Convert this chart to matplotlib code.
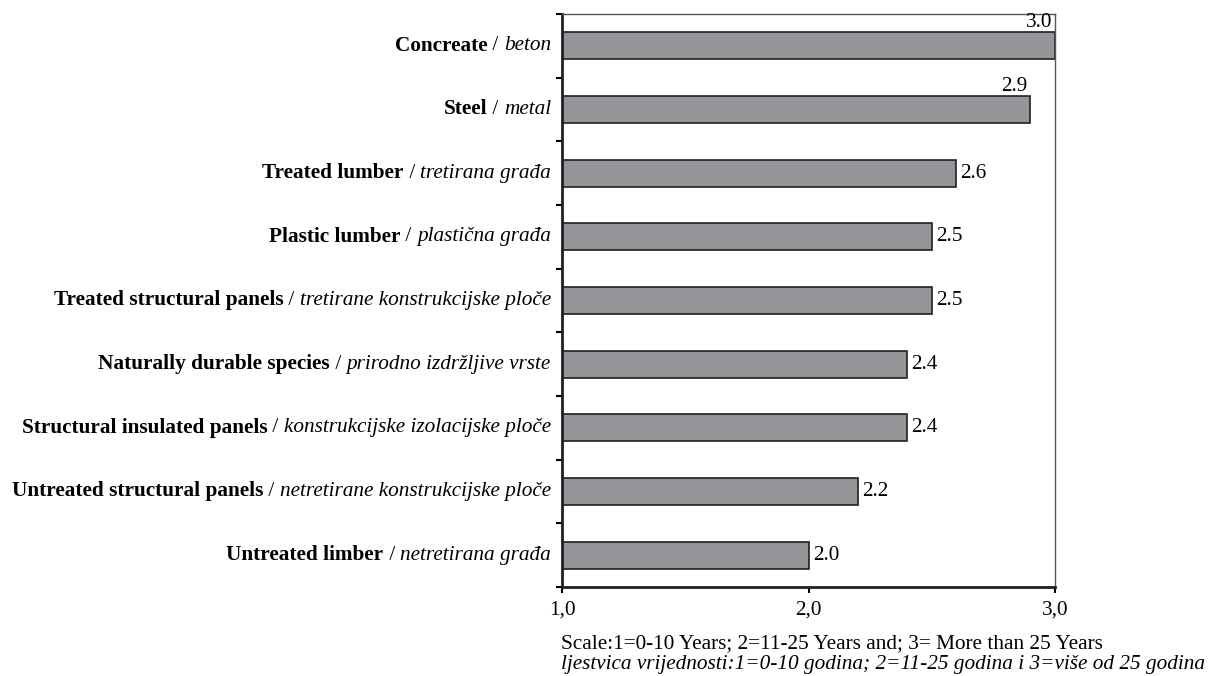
import matplotlib.pyplot as plt

plt.rcParams['font.family'] = ['Liberation Serif', 'DejaVu Serif']

# podaci
names_en = ['Concreate', 'Steel', 'Treated lumber', 'Plastic lumber',
            'Treated structural panels', 'Naturally durable species',
            'Structural insulated panels', 'Untreated structural panels',
            'Untreated limber']
names_hr = ['beton', 'metal', 'tretirana građa', 'plastična građa',
            'tretirane konstrukcijske ploče', 'prirodno izdržljive vrste',
            'konstrukcijske izolacijske ploče', 'netretirane konstrukcijske ploče',
            'netretirana građa']
values = [3.0, 2.9, 2.6, 2.5, 2.5, 2.4, 2.4, 2.2, 2.0]
xticks = [1.0, 2.0, 3.0]
xtick_labels = ['1,0', '2,0', '3,0']

fs = 15.3

fig = plt.figure(figsize=(12.15, 6.76), dpi=100)
ax = fig.add_axes([0.4626, 0.1317, 0.4057, 0.8476])

y = list(range(len(values)))
ax.barh(y, [v - 1.0 for v in values], left=1.0, height=0.42,
        color='#939598', edgecolor='#231f20', linewidth=1.2)
ax.set_xlim(1.0, 3.0)
ax.set_ylim(len(values) - 0.5, -0.5)

# vrijednosti na stupcima
for i, v in enumerate(values):
    if v >= 2.9:
        ax.annotate(f'{v:.1f}', xy=(v, i - 0.21), xytext=(-2, 0),
                    textcoords='offset points', ha='right', va='bottom',
                    fontsize=fs)
    else:
        ax.annotate(f'{v:.1f}', xy=(v, i), xytext=(3, 0),
                    textcoords='offset points', ha='left', va='center',
                    fontsize=fs)

# oznake kategorija: podebljano / kurziv
ax.set_yticks([k - 0.5 for k in range(len(values) + 1)])
ax.set_yticklabels([])
for i in y:
    t_it = ax.annotate(names_hr[i], xy=(0, i), xycoords=ax.get_yaxis_transform(),
                       xytext=(-8, 0), textcoords='offset points',
                       ha='right', va='center', style='italic', fontsize=fs)
    t_sl = ax.annotate(' / ', xy=(0, 0.5), xycoords=t_it, ha='right',
                       va='center', fontsize=fs)
    ax.annotate(names_en[i], xy=(0, 0.5), xycoords=t_sl, ha='right',
                va='center', fontweight='bold', fontsize=fs)

ax.set_xticks(xticks)
ax.set_xticklabels(xtick_labels, fontsize=fs)
ax.tick_params(axis='x', direction='out', length=4, width=1.5, pad=6)
ax.tick_params(axis='y', direction='out', length=4, width=1.5)

for s in ['left', 'bottom']:
    ax.spines[s].set_linewidth(2)
    ax.spines[s].set_color('#231f20')
for s in ['top', 'right']:
    ax.spines[s].set_linewidth(1)
    ax.spines[s].set_color('#555555')

fig.text(0.4617, 0.048, 'Scale:1=0-10 Years; 2=11-25 Years and; 3= More than 25 Years',
         fontsize=fs, ha='left', va='center')
fig.text(0.4617, 0.017, 'ljestvica vrijednosti:1=0-10 godina; 2=11-25 godina i 3=više od 25 godina',
         fontsize=fs, ha='left', va='center', style='italic')

plt.savefig('out.png')
